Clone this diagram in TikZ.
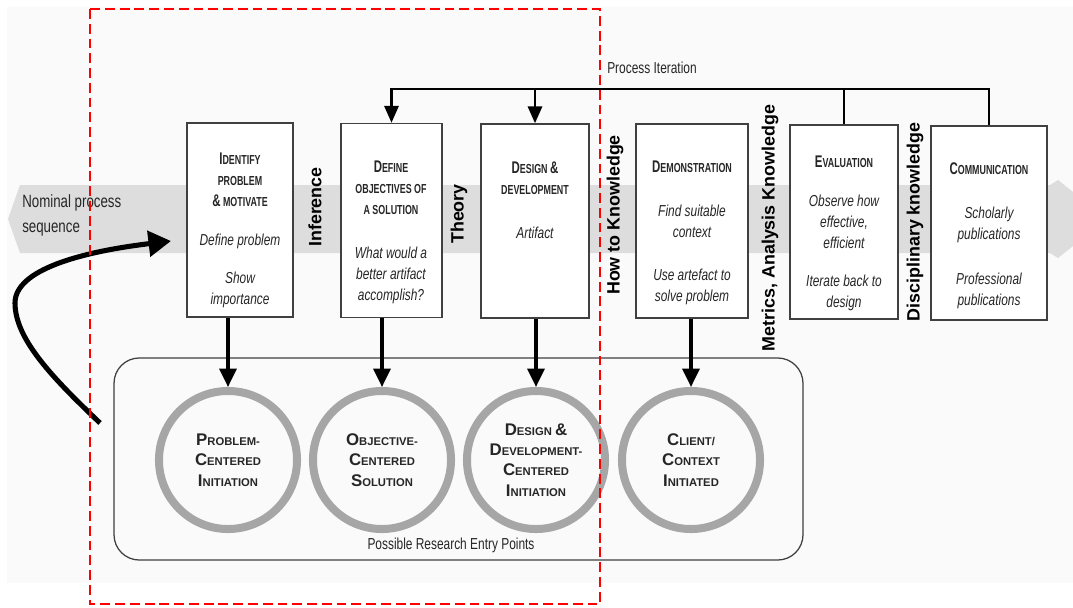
\documentclass[tikz,border=0pt]{standalone}
\usepackage{fontspec}
\setmainfont{Liberation Sans}[FakeStretch=0.75]
\newfontfamily\widefont{Liberation Sans}
\newfontfamily\titlefont{Liberation Sans}[FakeStretch=0.68]
\usetikzlibrary{arrows.meta}

\definecolor{paper}{RGB}{250,250,250}
\definecolor{bandgray}{RGB}{221,221,221}
\definecolor{ringgray}{RGB}{166,166,166}
\definecolor{boxline}{RGB}{64,64,64}
\definecolor{ink}{RGB}{38,38,38}

%% first letter of a small-caps word
\newcommand{\Cap}[1]{{\fontsize{12}{15}\selectfont #1}}

\tikzset{
  procbox/.style={draw=boxline, line width=1pt, minimum height=4.85cm, inner sep=0pt},
  boxtitle/.style={font=\titlefont\fontsize{9.3}{15}\selectfont\bfseries, align=center, text=ink, inner sep=0pt},
  boxtext/.style={font=\fontsize{11.3}{15}\selectfont\itshape, align=center, text=ink, inner sep=0pt},
  sidelabel/.style={font=\widefont\fontsize{12.7}{15}\selectfont\bfseries, rotate=90, inner sep=0pt},
  entry/.style={circle, draw=ringgray, line width=5.7pt, minimum size=3.45cm, align=center,
    font=\widefont\fontsize{8}{14.5}\selectfont\bfseries, text=ink, inner sep=0pt},
  entrybox/.style={draw=boxline, line width=0.9pt, rounded corners=18pt, minimum width=17.22cm,
    minimum height=5.05cm, inner sep=0pt},
  plain/.style={font=\fontsize{11.3}{14}\selectfont, text=ink, inner sep=0pt},
  downarrow/.style={line width=2.3pt, -{Triangle[length=13pt,width=12pt]}},
  iterline/.style={line width=2pt},
  loopback/.style={line width=3.6pt, -{Triangle[length=16pt,width=18pt]}},
  redframe/.style={draw=red, line width=2.1pt, dash pattern=on 7pt off 3.5pt}
}

\begin{document}
\begin{tikzpicture}[x=0.025cm, y=-0.025cm]
  \useasboundingbox (0,0) rectangle (1073,607);
  \fill[paper] (7,7) rectangle (1073,583);

  %% nominal process band
  \fill[bandgray] (8,219) -- (20,185) -- (1050,185) -- (1058,180) -- (1073,192)
    -- (1073,246) -- (1058,258) -- (1050,253) -- (20,253) -- cycle;
  \node[plain, font=\fontsize{12.6}{17.8}\selectfont, align=left, anchor=west] (nominal)
    at (22,215.5) {Nominal process\\sequence};

  %% activity boxes
  \node[procbox, minimum width=2.65cm, fill=white] (ident) at (240,220) {};
  \node[procbox, minimum width=2.52cm, fill=white] (defobj) at (391.5,220.5) {};
  \node[procbox, minimum width=2.7cm, fill=white] (design) at (535,221) {};
  \node[procbox, minimum width=2.8cm, fill=white] (demo) at (692,221) {};
  \node[procbox, minimum width=2.7cm, fill=white] (eval) at (844,222) {};
  \node[procbox, minimum width=2.9cm, fill=white] (comm) at (989,223) {};

  \node[boxtitle] (ident-t) at (240,180) {\Cap{I}DENTIFY\\PROBLEM\\\Cap{\&} MOTIVATE};
  \node[boxtext] (ident-a) at (240,241) {Define problem};
  \node[boxtext] (ident-b) at (240,290) {Show\\importance};

  \node[boxtitle] (defobj-t) at (391,188) {\Cap{D}EFINE\\OBJECTIVES OF\\A SOLUTION};
  \node[boxtext] (defobj-a) at (391,275) {What would a\\better artifact\\accomplish?};

  \node[boxtitle] (design-t) at (535,178) {\Cap{D}ESIGN \Cap{\&}\\DEVELOPMENT};
  \node[boxtext] (design-a) at (535,233) {Artifact};

  \node[boxtitle] (demo-t) at (692,167) {\Cap{D}EMONSTRATION};
  \node[boxtext] (demo-a) at (692,221.5) {Find suitable\\context};
  \node[boxtext] (demo-b) at (692,287) {Use artefact to\\solve problem};

  \node[boxtitle] (eval-t) at (844,162) {\Cap{E}VALUATION};
  \node[boxtext] (eval-a) at (844,222) {Observe how\\effective,\\efficient};
  \node[boxtext] (eval-b) at (844,292.5) {Iterate back to\\design};

  \node[boxtitle] (comm-t) at (989,169) {\Cap{C}OMMUNICATION};
  \node[boxtext] (comm-a) at (989,225) {Scholarly\\publications};
  \node[boxtext] (comm-b) at (989,290.5) {Professional\\publications};

  %% knowledge between the activities
  \node[sidelabel] (inference) at (315,207) {Inference};
  \node[sidelabel] (theory) at (459,214) {Theory};
  \node[sidelabel] (howto) at (615,215) {How to Knowledge};
  \node[sidelabel] (metrics) at (770,228) {Metrics, Analysis Knowledge};
  \node[sidelabel] (discipl) at (915,222) {Disciplinary knowledge};

  %% process iteration
  \coordinate (iter) at (391,89);
  \node[plain, anchor=west] (iterlabel) at (607,68) {Process Iteration};
  \draw[iterline, -{Triangle[length=12pt,width=10pt]}] (comm.north) |- (defobj.north |- iter) -- (defobj.north);
  \draw[iterline] (eval.north) -- (eval.north |- iter);
  \draw[iterline, -{Triangle[length=12pt,width=10pt]}] (design.north |- iter) -- (design.north);

  %% entry points
  \node[entrybox] (entries) at (458.5,459) {};
  \node[plain] (entrylabel) at (451,545) {Possible Research Entry Points};
  \node[entry] (pci) at (228,460) {\Cap{P}ROBLEM-\\\Cap{C}ENTERED\\\Cap{I}NITIATION};
  \node[entry] (oci) at (382,460) {\Cap{O}BJECTIVE-\\\Cap{C}ENTERED\\\Cap{S}OLUTION};
  \node[entry] (dci) at (536,460) {\Cap{D}ESIGN \Cap{\&}\\\Cap{D}EVELOPMENT-\\\Cap{C}ENTERED\\\Cap{I}NITIATION};
  \node[entry] (cci) at (691,460) {\Cap{C}LIENT/\\\Cap{C}ONTEXT\\\Cap{I}NITIATED};

  \foreach \b/\c in {ident/pci, defobj/oci, design/dci, demo/cci}
    \draw[downarrow] (\c.north |- \b.south) -- (\c.north);

  %% back into the sequence
  \coordinate (reentry) at (100,423);
  \coordinate (seqstart) at (171,241);
  \draw[loopback] (reentry) .. controls (55,380) and (15,340) .. (15,303)
    .. controls (15,270) and (80,252) .. (seqstart);

  %% highlighted part
  \draw[redframe] (90,9) rectangle (600,604);
\end{tikzpicture}
\end{document}
